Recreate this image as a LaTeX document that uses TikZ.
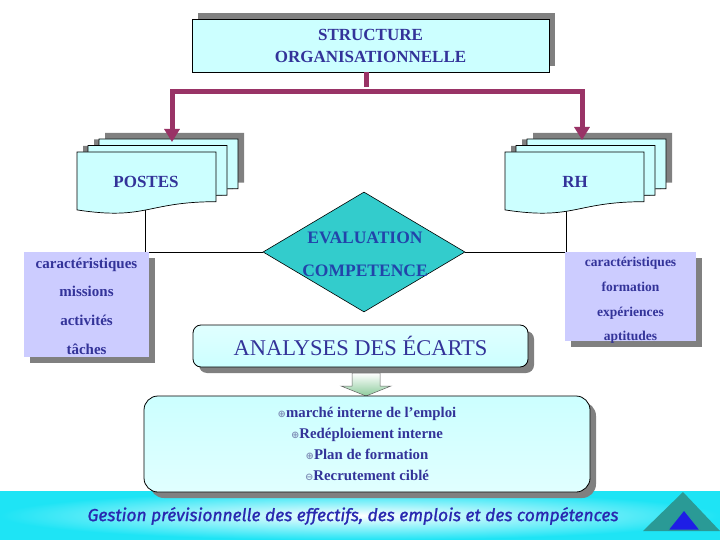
\documentclass[tikz,border=0pt]{standalone}
\usepackage{fontspec}
\setmainfont{Liberation Serif}
\newfontfamily\bannerfont[FakeBold=1.2]{Fira Sans}
\newfontfamily\symfont{DejaVu Sans}
\usetikzlibrary{shapes.geometric,arrows.meta}
\definecolor{navy}{HTML}{333399}
\definecolor{lcyan}{HTML}{CCFFFF}
\definecolor{lav}{HTML}{CCCCFF}
\definecolor{plum}{HTML}{993366}
\definecolor{shad}{HTML}{808080}
\definecolor{tealfill}{HTML}{33CCCC}
\definecolor{evalblue}{HTML}{2244AA}
\definecolor{bancyan}{RGB}{30,228,245}
\definecolor{banblue}{HTML}{2828B0}
\definecolor{tri}{HTML}{2A9A96}
\definecolor{triblue}{HTML}{1E1EE6}
\definecolor{bullc}{HTML}{8090B8}
\definecolor{arrgreen}{HTML}{8CCB9C}
\newcommand\docshape[3]{\path[#3,shift={(#1,#2)}] (0,0) -- (139,0) -- (139,49.7) .. controls (69.5,49.7) and (69.5,68.6) .. (0,57.9) -- cycle;}
\newcommand\bul{{\symfont\fontsize{10}{10}\selectfont\color{bullc}⊕}}
\newcommand\bulm{{\symfont\fontsize{10}{10}\selectfont\color{bullc}⊖}}
\tikzset{
  sz/.style 2 args={font=\fontsize{#1}{#2}\selectfont},
  bsz/.style 2 args={font=\fontsize{#1}{#2}\selectfont\bfseries},
  pline/.style={draw=plum, line width=5pt, line join=miter},
  thinline/.style={draw=black, line width=0.8pt},
  docstyle/.style={fill=lcyan, draw=black, line width=0.7pt},
  shadowfill/.style={fill=shad},
}
\begin{document}
\begin{tikzpicture}[x=1pt,y=-1pt]
\useasboundingbox (0,0) rectangle (720,540);
\fill[white] (0,0) rectangle (720,540);
% banner
\shade[inner color=white, outer color=bancyan] (0,491) rectangle (720,540);
\node[sz={17.4}{19}, text=banblue, inner sep=0] (ban) at (353,516)
  {\bannerfont\itshape Gestion prévisionnelle des effectifs, des emplois et des compétences};
\fill[tri] (643,531) -- (683,492) -- (720,531) -- cycle;
\filldraw[fill=triblue, draw=tri, line width=1pt] (668,530) -- (684,510) -- (700,530) -- cycle;
% top box
\fill[shadowfill] (198,13) rectangle (555,66);
\node[draw=black, line width=0.8pt, fill=lcyan, minimum width=357pt, minimum height=53pt, inner sep=0,
  align=center, text=navy, bsz={17}{22}] (top) at (370.5,45.5)
  {STRUCTURE\\ORGANISATIONNELLE};
% diamond
\node[diamond, draw=black, line width=0.6pt, fill=tealfill, minimum width=202pt, minimum height=120pt,
  inner sep=0] (eval) at (364,252) {};
\node[align=center, text=evalblue, bsz={17.5}{33}, inner sep=0] (evaltxt) at (365,254)
  {EVALUATION\\COMPETENCE};
% thin connectors
\coordinate (pb) at (145,205);
\coordinate (rb) at (566,205);
\draw[thinline] (pb) |- (eval.west);
\draw[thinline] (eval.east) -| (rb);
% shadows of documents
\docshape{105}{133}{shadowfill}
\docshape{94}{139.5}{shadowfill}
\docshape{83}{146}{shadowfill}
\docshape{533}{133}{shadowfill}
\docshape{522}{139.5}{shadowfill}
\docshape{511}{146}{shadowfill}
% documents
\docshape{99}{139}{docstyle}
\docshape{88}{145.5}{docstyle}
\docshape{77}{152}{docstyle}
\docshape{527}{139}{docstyle}
\docshape{516}{145.5}{docstyle}
\docshape{505}{152}{docstyle}
\node[text=navy, bsz={17}{20}, inner sep=0] (postes) at (146,182) {POSTES};
\node[text=navy, bsz={17}{20}, inner sep=0] (rh) at (575,182) {RH};
% purple connectors
\coordinate (jm) at (366,92);
\coordinate (jl) at (172,92);
\coordinate (jr) at (582,92);
\coordinate (ptop) at (172,142);
\coordinate (rtop) at (582,140);
\draw[pline] (top.south -| jm) -- ([yshift=5pt]jm);
\draw[pline, -{Triangle[width=15pt,length=13pt]}] (jm) -- (jl) -- (ptop);
\draw[pline, -{Triangle[width=15pt,length=13pt]}] (jm) -- (jr) -- (rtop);
% left box
\fill[shadowfill] (30,258) rectangle (155,363);
\fill[lav] (24,252) rectangle (149,357);
\node[inner sep=0, align=center, text=navy, bsz={15}{28.7}] (lbox) at (86.5,306)
  {caractéristiques\\missions\\activités\\tâches};
% right box
\fill[shadowfill] (571,258) rectangle (702,347);
\fill[lav] (565,252) rectangle (696,341);
\node[inner sep=0, align=center, text=navy, bsz={13.5}{24.7}] (rbox) at (630.5,300.5)
  {caractéristiques\\formation\\expériences\\aptitudes};
% analyses box
\fill[shadowfill, rounded corners=8pt] (199,331) rectangle (534,373);
\node[draw=black, line width=0.8pt, top color=white!40!lcyan, bottom color=lcyan, rounded corners=8pt,
  minimum width=335pt, minimum height=42pt, inner sep=0, text=navy, sz={22.5}{26}] (ana) at (360.5,346)
  {ANALYSES DES ÉCARTS};
% block arrow
\coordinate (arrtip) at (366,396);
\shade[top color=white, bottom color=arrgreen, draw=black!60, line width=0.5pt]
  (352,373) -- (380,373) -- (380,386) -- (391,386) -- (arrtip) -- (341,386) -- (352,386) -- cycle;
% result box
\fill[shadowfill, rounded corners=14pt] (150,402) rectangle (596,498);
\node[draw=black, line width=0.8pt, top color=lcyan, bottom color=lcyan!60, rounded corners=14pt,
  minimum width=446pt, minimum height=96pt, inner sep=0, align=center, text=navy,
  bsz={14.8}{21}] (res) at (367,444)
  {\bul marché interne de l’emploi\\\bul Redéploiement interne\\\bul Plan de formation\\\bulm Recrutement ciblé};
\end{tikzpicture}
\end{document}
